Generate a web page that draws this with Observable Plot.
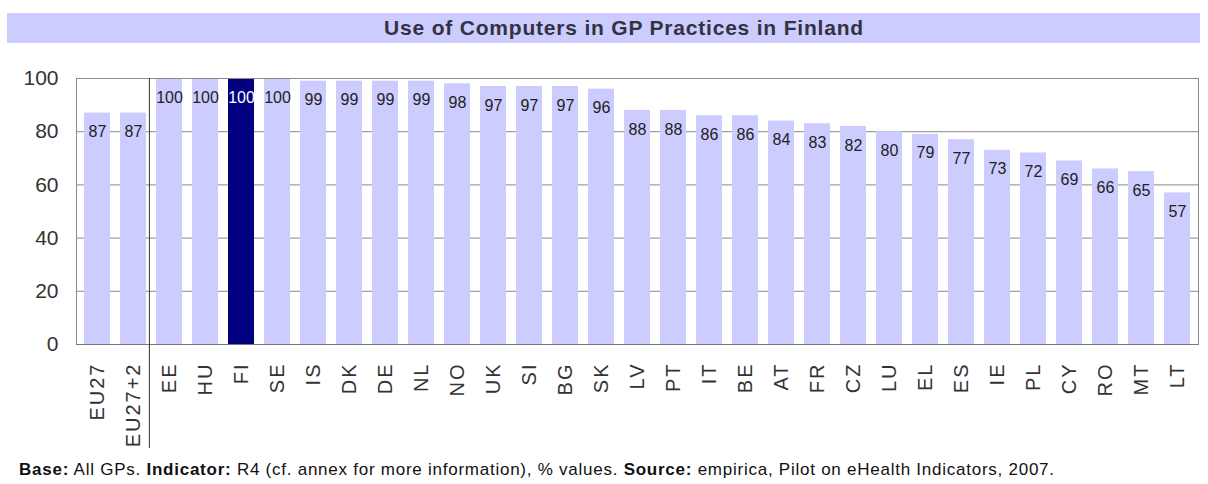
<!DOCTYPE html>
<html>
<head>
<meta charset="utf-8">
<script src="https://cdn.jsdelivr.net/npm/d3@7"></script>
<script src="https://cdn.jsdelivr.net/npm/@observablehq/plot@0.6"></script>
<style>
  html, body { margin: 0; padding: 0; background: #fff; }
  body { width: 1208px; height: 484px; overflow: hidden; font-family: Arial, "Liberation Sans", sans-serif; }
  #title { margin: 13px 8px 0 7px; padding-left: 41px; height: 30px; line-height: 30px; background: #ccccff; color: #333340;
           font-weight: bold; font-size: 21px; letter-spacing: 0.8px; text-align: center; }
  #chart svg { display: block; }
  #foot { margin-left: 19px; font-size: 17px; letter-spacing: 0.75px; color: #111; height: 29px; line-height: 29px; white-space: nowrap; }
</style>
</head>
<body>
<div id="title">Use of Computers in GP Practices in Finland</div>
<div id="chart"></div>
<div id="foot"><b>Base:</b> All GPs. <b>Indicator:</b> R4 (cf. annex for more information), % values. <b>Source:</b> empirica, Pilot on eHealth Indicators, 2007.</div>
<script>
const categories = ["EU27","EU27+2","EE","HU","FI","SE","IS","DK","DE","NL","NO","UK","SI","BG","SK","LV","PT","IT","BE","AT","FR","CZ","LU","EL","ES","IE","PL","CY","RO","MT","LT"];
const values = [87,87,100,100,100,100,99,99,99,99,98,97,97,97,96,88,88,86,86,84,83,82,80,79,77,73,72,69,66,65,57];
const highlight = "FI";
const yTicks = [0,20,40,60,80,100];

const data = categories.map((c, i) => ({country: c, value: values[i]}));

const width = 1208, marginLeft = 76, marginRight = 10;
const pInner = 0.28, pOuter = 0.14;
const step = (width - marginLeft - marginRight) / (categories.length - pInner + 2 * pOuter);

const chart = Plot.plot({
  width,
  height: 412,
  marginTop: 35,
  marginBottom: 111,
  marginLeft,
  marginRight,
  style: {fontFamily: "Arial, 'Liberation Sans', sans-serif", background: "#fff"},
  x: {domain: categories, paddingInner: pInner, paddingOuter: pOuter, label: null},
  y: {domain: [0, 100], label: null},
  marks: [
    Plot.gridY(yTicks, {stroke: "#8a8a8a", strokeOpacity: 1}),
    Plot.barY(data, {x: "country", y: "value", fill: d => d.country === highlight ? "#000080" : "#ccccff"}),
    Plot.frame({stroke: "#8a8a8a"}),
    Plot.ruleY([0], {stroke: "#777"}),
    Plot.ruleX(["EE"], {stroke: "#333", strokeWidth: 1, dx: -step / 2 - 2, insetBottom: -104}),
    Plot.text(data, {x: "country", y: "value", text: d => String(d.value), dy: 19,
      fill: d => d.country === highlight ? "#fff" : "#222",
      fontWeight: d => d.country === highlight ? "bold" : "normal",
      fontSize: 16}),
    Plot.axisY(yTicks, {tickSize: 0, tickPadding: 18, fontSize: 21, fill: "#333"}),
    Plot.axisX({tickSize: 0, tickPadding: 18, tickRotate: -90, fontSize: 20, fill: "#333"})
  ]
});
d3.select(chart).selectAll('g[aria-label="x-axis tick label"] text').attr("letter-spacing", "2px");
document.getElementById("chart").appendChild(chart);
</script>
</body>
</html>
